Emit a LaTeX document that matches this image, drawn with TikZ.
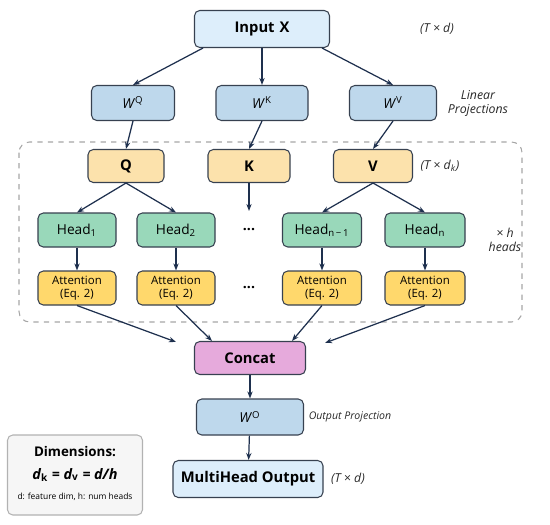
\documentclass[tikz,border=0pt]{standalone}
\usepackage{fontspec}
\setmainfont{Open Sans}
\usepackage{tikz}
\usetikzlibrary{arrows.meta,positioning,calc}
\definecolor{inputBlue}{RGB}{221,238,251}
\definecolor{projBlue}{RGB}{190,216,236}
\definecolor{qkvAmber}{RGB}{252,226,172}
\definecolor{headGreen}{RGB}{153,216,186}
\definecolor{attnGold}{RGB}{255,216,108}
\definecolor{concatPink}{RGB}{230,170,220}
\definecolor{dimGray}{RGB}{246,246,246}
\definecolor{edgeDark}{RGB}{55,65,80}
\definecolor{arrowNavy}{RGB}{30,48,78}
\definecolor{noteGray}{RGB}{40,40,40}

\begin{document}
\begin{tikzpicture}[
    every node/.style={align=center, rounded corners=3pt, inner sep=2pt},
    blk/.style={draw=edgeDark, line width=0.6pt},
    bigtxt/.style={font=\bfseries\fontsize{8.4}{10}\selectfont},
    midtxt/.style={font=\fontsize{7.8}{9}\selectfont},
    attntxt/.style={font=\fontsize{6.5}{7.4}\selectfont, inner sep=1pt},
    note/.style={font=\itshape\scriptsize, text=noteGray},
    arr/.style={-{Stealth[length=4pt]}, arrowNavy, line width=0.7pt}
  ]
    \useasboundingbox (0,0) rectangle (11,-10.48);
    % heads region
    \draw[gray!70, dashed, rounded corners=6pt, line width=0.6pt] (0.38,-2.84) rectangle (10.44,-6.44);
    \node[blk, fill=inputBlue, minimum width=2.7cm, minimum height=0.74cm, bigtxt] (inp) at (5.24,-0.58) {Input\,\,X};
    \node[note] (inpdim) at (8.74,-0.58) {(\textit{T} × \textit{d})};
    % linear projections
    \node[blk, fill=projBlue, minimum width=1.66cm, minimum height=0.7cm, midtxt] (wq) at (2.66,-2.06) {\textit{W}\textsuperscript{Q}};
    \node[blk, fill=projBlue, minimum width=1.84cm, minimum height=0.7cm, midtxt] (wk) at (5.24,-2.06) {\textit{W}\textsuperscript{K}};
    \node[blk, fill=projBlue, minimum width=1.74cm, minimum height=0.7cm, midtxt] (wv) at (7.86,-2.06) {\textit{W}\textsuperscript{V}};
    \node[note] (linproj) at (9.56,-2.06) {Linear\\Projections};
    % Q, K, V
    \node[blk, fill=qkvAmber, minimum width=1.52cm, minimum height=0.66cm, bigtxt] (q) at (2.52,-3.32) {Q};
    \node[blk, fill=qkvAmber, minimum width=1.64cm, minimum height=0.66cm, bigtxt] (k) at (4.98,-3.32) {K};
    \node[blk, fill=qkvAmber, minimum width=1.58cm, minimum height=0.66cm, bigtxt] (v) at (7.46,-3.32) {V};
    \node[note] (qkvdim) at (8.8,-3.32) {(\textit{T} × \textit{d}\textsubscript{k})};
    % heads
    \node[blk, fill=headGreen, minimum width=1.56cm, minimum height=0.68cm, midtxt] (h1) at (1.54,-4.6) {Head\textsubscript{1}};
    \node[blk, fill=headGreen, minimum width=1.56cm, minimum height=0.68cm, midtxt] (h2) at (3.52,-4.6) {Head\textsubscript{2}};
    \node[font=\bfseries\footnotesize] (hdots) at (4.98,-4.6) {...};
    \node[blk, fill=headGreen, minimum width=1.58cm, minimum height=0.68cm, midtxt] (h3) at (6.44,-4.6) {Head\textsubscript{n\,−\,1}};
    \node[blk, fill=headGreen, minimum width=1.6cm, minimum height=0.68cm, midtxt] (h4) at (8.5,-4.6) {Head\textsubscript{n}};
    \node[note] (nheads) at (10.1,-4.8) {× \textit{h}\\heads};
    \coordinate (kend) at (4.98,-4.22);
    % attention
    \node[blk, fill=attnGold, minimum width=1.56cm, minimum height=0.68cm, attntxt] (a1) at (1.54,-5.76) {Attention\\(Eq. 2)};
    \node[blk, fill=attnGold, minimum width=1.56cm, minimum height=0.68cm, attntxt] (a2) at (3.52,-5.76) {Attention\\(Eq. 2)};
    \node[font=\bfseries\footnotesize] (adots) at (4.98,-5.76) {...};
    \node[blk, fill=attnGold, minimum width=1.58cm, minimum height=0.68cm, attntxt] (a3) at (6.44,-5.76) {Attention\\(Eq. 2)};
    \node[blk, fill=attnGold, minimum width=1.6cm, minimum height=0.68cm, attntxt] (a4) at (8.5,-5.76) {Attention\\(Eq. 2)};
    % output side
    \node[blk, fill=concatPink, minimum width=2.22cm, minimum height=0.66cm, bigtxt] (cat) at (5.0,-7.16) {Concat};
    \node[blk, fill=projBlue, minimum width=2.14cm, minimum height=0.72cm, midtxt] (wo) at (5.0,-8.34) {\textit{W}\textsuperscript{O}};
    \node[note, font=\itshape\fontsize{6}{7}\selectfont] (outproj) at (7.0,-8.34) {Output Projection};
    \node[blk, fill=inputBlue, minimum width=3.0cm, minimum height=0.74cm, bigtxt] (out) at (4.96,-9.58) {MultiHead Output};
    \node[note] (outdim) at (6.96,-9.58) {(\textit{T} × \textit{d})};
    % dimensions note
    \node[draw=gray!60, fill=dimGray, line width=0.6pt, minimum width=2.7cm, minimum height=1.6cm] (dimbox) at (1.5,-9.5) {};
    \node[font=\bfseries\fontsize{7.6}{9}\selectfont] (dimtitle) at (1.5,-9.04) {Dimensions:};
    \node[font=\bfseries\itshape\fontsize{8.2}{9}\selectfont] (dimeq) at (1.5,-9.5) {d\textsubscript{\upshape k} = d\textsubscript{\upshape v} = d/h};
    \node[font=\fontsize{4.8}{6}\selectfont] (dimtext) at (1.5,-9.94) {d: feature dim, h: num heads};
    % arrows
    \draw[arr] ([xshift=-1.18cm]inp.south) -- (wq.north);
    \draw[arr] (inp) -- (wk);
    \draw[arr] ([xshift=1.2cm]inp.south) -- (wv.north);
    \draw[arr] (wq.south) -- (q.north);
    \draw[arr] (wk.south) -- (k.north);
    \draw[arr] (wv.south) -- (v.north);
    \draw[arr] (q.south) -- (h1.north);
    \draw[arr] (q.south) -- (h2.north);
    \draw[arr] (k.south) -- (kend);
    \draw[arr] (v.south) -- (h3.north);
    \draw[arr] (v.south) -- (h4.north);
    \draw[arr] (h1) -- (a1);
    \draw[arr] (h2) -- (a2);
    \draw[arr] (h3) -- (a3);
    \draw[arr] (h4) -- (a4);
    \draw[arr] (a1.south) -- ([xshift=-0.36cm,yshift=-0.02cm]cat.north west);
    \draw[arr] (a2.south) -- ([xshift=-0.76cm]cat.north);
    \draw[arr] (a3.south) -- ([xshift=0.84cm]cat.north);
    \draw[arr] (a4.south) -- ([xshift=0.38cm,yshift=-0.04cm]cat.north east);
    \draw[arr] (cat) -- (wo);
    \draw[arr] (wo) -- (out);
  \end{tikzpicture}
\end{document}
